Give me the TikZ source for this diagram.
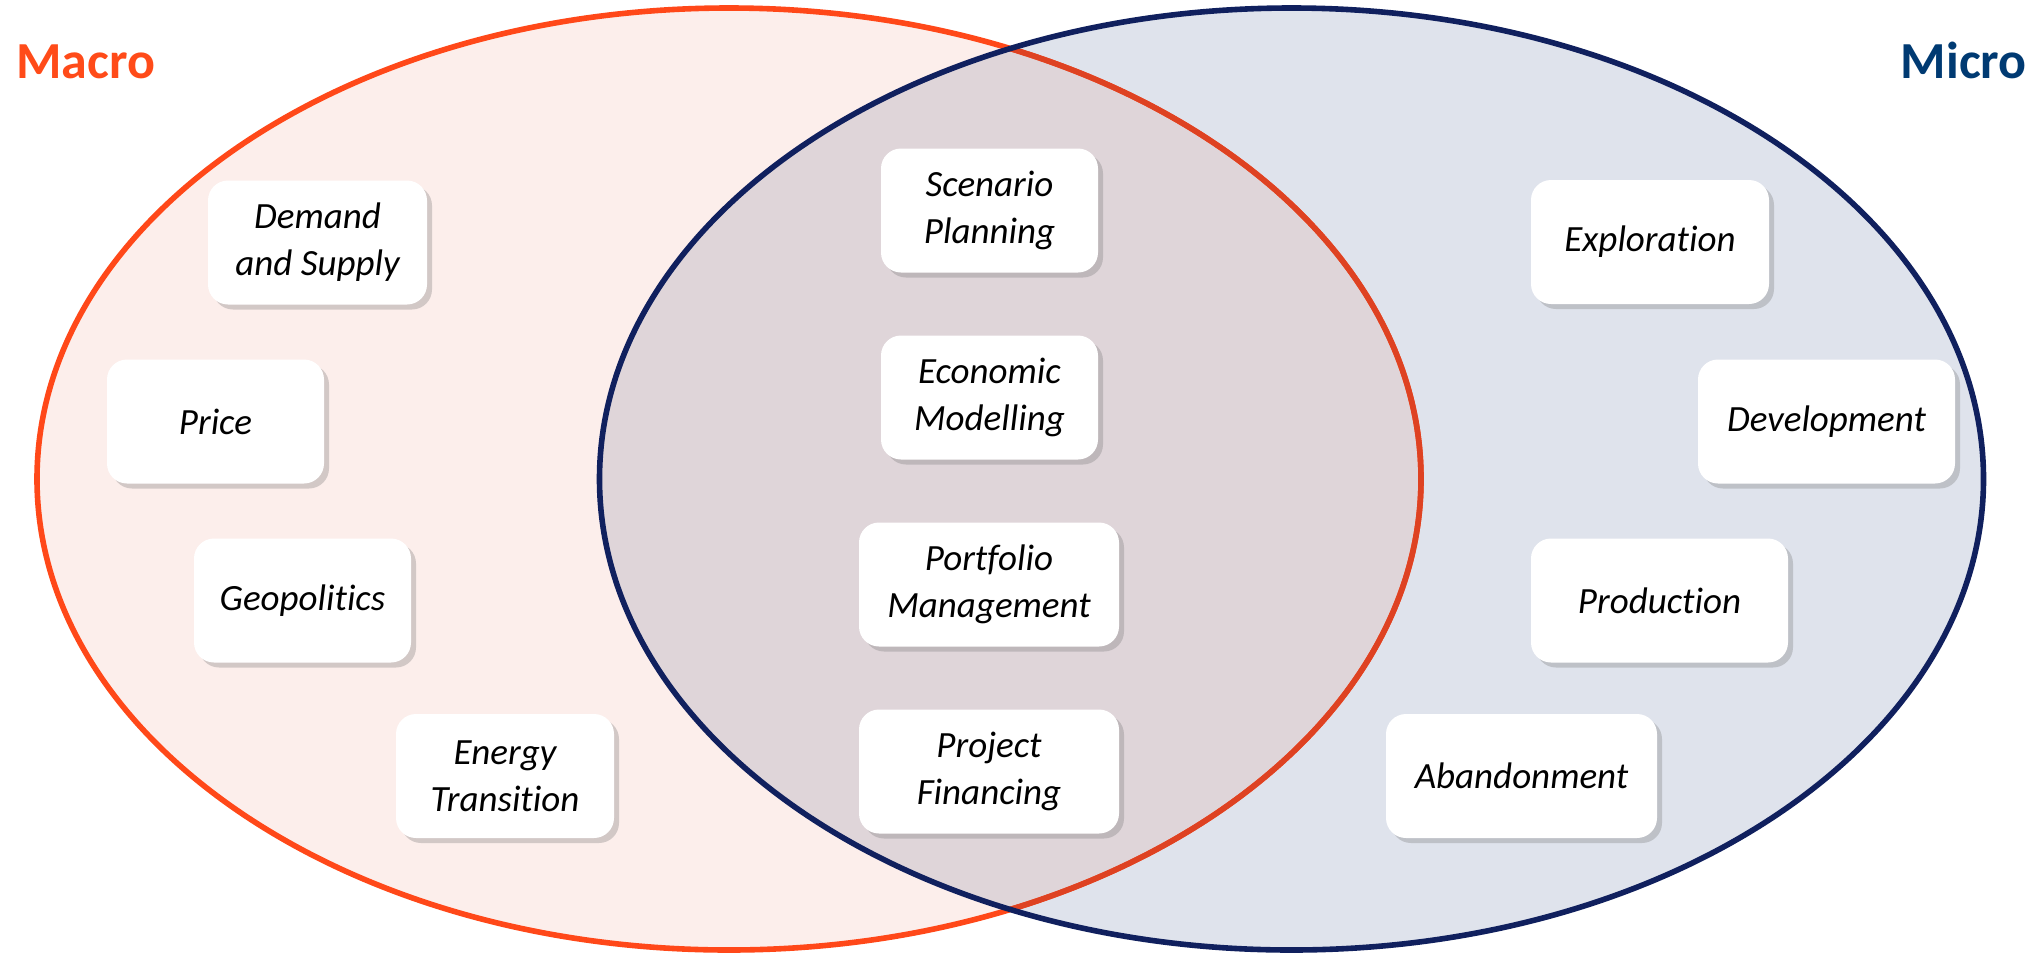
\documentclass[tikz,border=0pt]{standalone}
\usepackage{fontspec}
\setmainfont{Carlito}[Ligatures=NoCommon]
\usetikzlibrary{shadows,calc}
\definecolor{orline}{RGB}{255,72,25}
\definecolor{orlinedark}{RGB}{222,66,34}
\definecolor{navyline}{RGB}{16,32,94}
\definecolor{orfill}{RGB}{252,238,235}
\definecolor{blfill}{RGB}{223,227,236}
\definecolor{ovfill}{RGB}{223,213,217}
\definecolor{macrocol}{RGB}{255,75,25}
\definecolor{microcol}{RGB}{0,58,114}
\tikzset{
  itembox/.style={draw=none, fill=white, rounded corners=10pt, align=center,
    minimum height=62pt, inner sep=2pt,
    font=\fontsize{18.5}{23.5}\selectfont\itshape,
    drop shadow={opacity=0.3, shadow xshift=2.5pt, shadow yshift=-2.5pt, fill=black!55}},
  titletext/.style={font=\fontsize{26}{30}\selectfont\bfseries, anchor=base west, inner sep=0pt}
}
\begin{document}
\begin{tikzpicture}[x=0.5pt,y=-0.5pt]
\useasboundingbox (0,0) rectangle (2040,954);
% fills
\fill[orfill] (729,479) ellipse [x radius=346pt, y radius=235.5pt];
\fill[blfill] (1291.5,479) ellipse [x radius=346pt, y radius=235.5pt];
\begin{scope}
  \clip (729,479) ellipse [x radius=346pt, y radius=235.5pt];
  \fill[ovfill] (1291.5,479) ellipse [x radius=346pt, y radius=235.5pt];
\end{scope}
% strokes
\draw[orline, line width=2.8pt] (729,479) ellipse [x radius=346pt, y radius=235.5pt];
\begin{scope}
  \clip (1291.5,479) ellipse [x radius=346pt, y radius=235.5pt];
  \draw[orlinedark, line width=2.8pt] (729,479) ellipse [x radius=346pt, y radius=235.5pt];
\end{scope}
\draw[navyline, line width=2.8pt] (1291.5,479) ellipse [x radius=346pt, y radius=235.5pt];
% titles
\node[titletext, text=macrocol] (macro) at (16,78) {Macro};
\node[titletext, text=microcol, anchor=base east] (micro) at (2027,78) {Micro};
% macro boxes
\node[itembox, minimum width=109.5pt] (demand) at (317.5,242.5) {Demand\\and Supply};
\node[itembox, minimum width=108.5pt] (price) at (215.5,421.5) {Price};
\node[itembox, minimum width=108.5pt] (geo) at (302.5,600.5) {Geopolitics};
\node[itembox, minimum width=109pt] (energy) at (505,776) {Energy\\Transition};
% overlap boxes
\node[itembox, minimum width=108.5pt] (scen) at (989.5,210.5) {Scenario\\Planning};
\node[itembox, minimum width=108.5pt] (econ) at (989.5,397.5) {Economic\\Modelling};
\node[itembox, minimum width=130pt] (port) at (989,584.5) {Portfolio\\Management};
\node[itembox, minimum width=130pt] (proj) at (989,771.5) {Project\\Financing};
% micro boxes
\node[itembox, minimum width=119pt] (expl) at (1650,242) {Exploration};
\node[itembox, minimum width=128.5pt] (dev) at (1826.5,421.5) {Development};
\node[itembox, minimum width=128.5pt] (prod) at (1659.5,600.5) {Production};
\node[itembox, minimum width=135.5pt] (aban) at (1521.5,776) {Abandonment};
\end{tikzpicture}
\end{document}
